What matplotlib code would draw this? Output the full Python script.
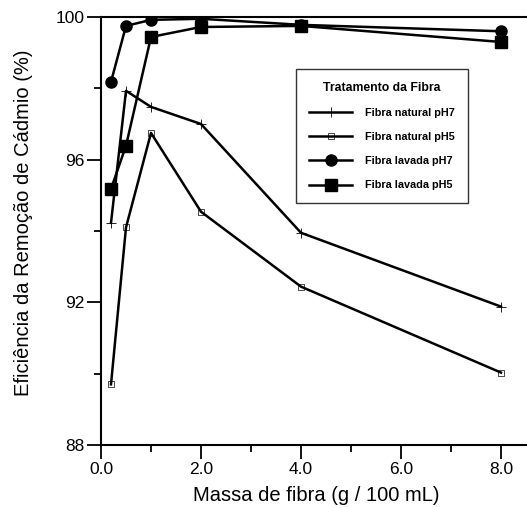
import matplotlib
matplotlib.use("Agg")
import matplotlib.pyplot as plt
from matplotlib.ticker import FixedLocator

massa = [0.2, 0.5, 1.0, 2.0, 4.0, 8.0]
natural_ph7 = [94.23, 97.93, 97.48, 97.0, 93.95, 91.88]
natural_ph5 = [89.7, 94.1, 96.75, 94.54, 92.44, 90.03]
lavada_ph7 = [98.18, 99.75, 99.92, 99.95, 99.78, 99.6]
lavada_ph5 = [95.18, 96.39, 99.44, 99.72, 99.75, 99.3]
xticks = [0, 2, 4, 6, 8]
xticklabels = ["0.0", "2.0", "4.0", "6.0", "8.0"]
yticks = [88, 92, 96, 100]

plt.rcParams['font.family'] = ['Liberation Sans', 'DejaVu Sans']

fig = plt.figure(figsize=(5.27, 5.08), dpi=100)
ax = fig.add_axes([101/527, 63/508, 430/527, 428/508])

lw = 1.8
ax.plot(massa, natural_ph7, color='black', lw=lw, marker='+', ms=7, mew=0.6,
        label='Fibra natural pH7')
ax.plot(massa, natural_ph5, color='black', lw=lw, marker='s', ms=5, mew=0.5,
        mfc='none', label='Fibra natural pH5')
ax.plot(massa, lavada_ph7, color='black', lw=lw, marker='o', ms=8,
        label='Fibra lavada pH7')
ax.plot(massa, lavada_ph5, color='black', lw=lw, marker='s', ms=8,
        label='Fibra lavada pH5')

ax.set_xlim(0, 8.6)
ax.set_ylim(88, 100)
ax.set_xticks(xticks)
ax.set_xticklabels(xticklabels)
ax.xaxis.set_minor_locator(FixedLocator([1, 3, 5, 7]))
ax.set_yticks(yticks)
ax.yaxis.set_minor_locator(FixedLocator([90, 94, 98]))
ax.tick_params(which='major', direction='out', length=10, width=1.3,
               labelsize=12.5, pad=2)
ax.tick_params(which='minor', direction='out', length=5, width=1.3)
ax.spines['right'].set_visible(False)
for s in ['left', 'bottom', 'top']:
    ax.spines[s].set_linewidth(1.5)

ax.set_xlabel('Massa de fibra (g / 100 mL)', fontsize=14.5, labelpad=7)
ax.set_ylabel('Eficiência da Remoção de Cádmio (%)', fontsize=14.5, labelpad=16)
ax.yaxis.label.set_y(0.52)

leg = ax.legend(title='Tratamento da Fibra', loc='upper left',
                bbox_to_anchor=((296-101)/430, (445-69)/428),
                fontsize=7.8, title_fontsize=8.8, frameon=True, fancybox=False,
                edgecolor='black', borderpad=1.2, labelspacing=1.3,
                handlelength=4.0, handletextpad=1.2, borderaxespad=0)
leg.get_frame().set_linewidth(1.0)
leg.get_title().set_fontweight('bold')
for t in leg.get_texts():
    t.set_fontweight('bold')

fig.savefig('out.png', dpi=100)
